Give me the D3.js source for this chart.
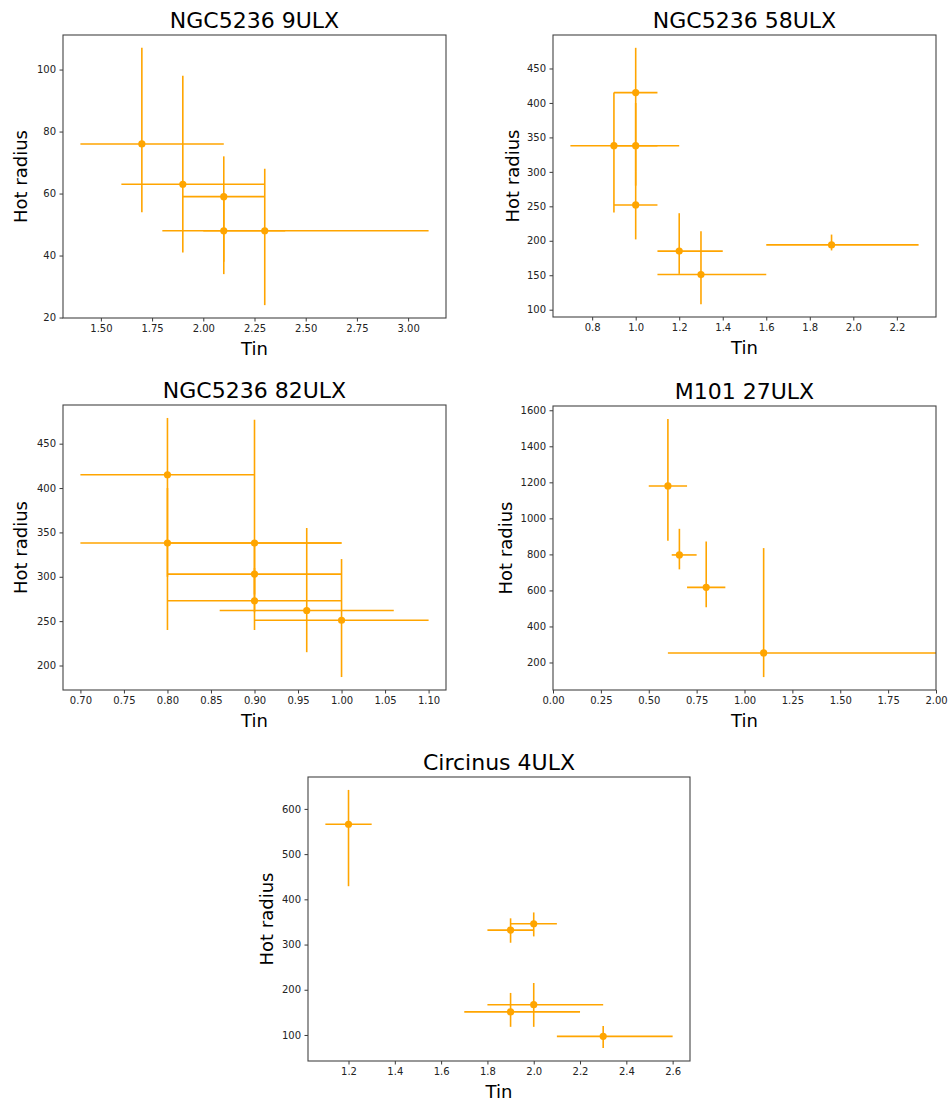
<!DOCTYPE html>
<html>
<head>
<meta charset="utf-8">
<script src="https://cdn.jsdelivr.net/npm/d3@7"></script>
<style>
  html, body { margin: 0; padding: 0; background: #fff; }
  svg { display: block; font-family: "DejaVu Sans", sans-serif; }
</style>
</head>
<body>
<svg id="chart" width="952" height="1104"></svg>
<script>
// ---- NGC5236 9ULX ----
const ngc9Tin      = [1.7, 1.9, 2.1, 2.1, 2.3];
const ngc9TinLo    = [1.4, 1.6, 1.9, 1.8, 2.0];
const ngc9TinHi    = [2.1, 2.3, 2.3, 2.4, 3.1];
const ngc9Rad      = [76, 63, 59, 48, 48];
const ngc9RadLo    = [54, 41, 34, 38, 24];
const ngc9RadHi    = [107, 98, 72, 60, 68];
const ngc9XTicks   = [1.5, 1.75, 2.0, 2.25, 2.5, 2.75, 3.0];
const ngc9YTicks   = [20, 40, 60, 80, 100];

// ---- NGC5236 58ULX ----
const ngc58Tin     = [1.0, 0.9, 1.0, 1.0, 1.2, 1.3, 1.9];
const ngc58TinLo   = [0.9, 0.7, 0.9, 0.9, 1.1, 1.1, 1.6];
const ngc58TinHi   = [1.1, 1.2, 1.1, 1.1, 1.4, 1.6, 2.3];
const ngc58Rad     = [415, 338, 338, 252, 185, 151, 194];
const ngc58RadLo   = [300, 241, 280, 202, 152, 108, 186];
const ngc58RadHi   = [480, 415, 400, 300, 240, 214, 209];
const ngc58XTicks  = [0.8, 1.0, 1.2, 1.4, 1.6, 1.8, 2.0, 2.2];
const ngc58YTicks  = [100, 150, 200, 250, 300, 350, 400, 450];

// ---- NGC5236 82ULX ----
const ngc82Tin     = [0.8, 0.8, 0.9, 0.9, 0.9, 0.96, 1.0];
const ngc82TinLo   = [0.7, 0.7, 0.8, 0.8, 0.8, 0.86, 0.9];
const ngc82TinHi   = [0.9, 1.0, 1.0, 1.0, 1.0, 1.06, 1.1];
const ngc82Rad     = [415, 338, 338, 303, 273, 262, 251];
const ngc82RadLo   = [300, 240, 280, 260, 240, 215, 187];
const ngc82RadHi   = [479, 400, 477, 340, 310, 355, 320];
const ngc82XTicks  = [0.70, 0.75, 0.80, 0.85, 0.90, 0.95, 1.00, 1.05, 1.10];
const ngc82YTicks  = [200, 250, 300, 350, 400, 450];

// ---- M101 27ULX ----
const m101Tin      = [0.6, 0.66, 0.8, 1.1];
const m101TinLo    = [0.5, 0.62, 0.7, 0.6];
const m101TinHi    = [0.7, 0.75, 0.9, 2.3];
const m101Rad      = [1180, 797, 617, 253];
const m101RadLo    = [876, 717, 506, 119];
const m101RadHi    = [1552, 942, 872, 835];
const m101XTicks   = [0, 0.25, 0.5, 0.75, 1.0, 1.25, 1.5, 1.75, 2.0];
const m101YTicks   = [200, 400, 600, 800, 1000, 1200, 1400, 1600];
const m101XRange   = [0, 2];

// ---- Circinus 4ULX ----
const circTin      = [1.2, 1.9, 2.0, 1.9, 2.0, 2.3];
const circTinLo    = [1.1, 1.8, 1.9, 1.7, 1.8, 2.1];
const circTinHi    = [1.3, 2.0, 2.1, 2.2, 2.3, 2.6];
const circRad      = [566, 332, 346, 151, 167, 97];
const circRadLo    = [429, 304, 318, 118, 118, 71];
const circRadHi    = [642, 358, 371, 193, 215, 120];
const circXTicks   = [1.2, 1.4, 1.6, 1.8, 2.0, 2.2, 2.4, 2.6];
const circYTicks   = [100, 200, 300, 400, 500, 600];

const titles = ["NGC5236 9ULX", "NGC5236 58ULX", "NGC5236 82ULX", "M101 27ULX", "Circinus 4ULX"];

const ORANGE = "#ffa500";
const svg = d3.select("#chart");

// pad an extent by 5% on each side, the usual autoscale margin
function padded(lo, hi) {
  const m = (hi - lo) * 0.05;
  return [lo - m, hi + m];
}

function panel(cfg) {
  const { id, box, title, tin, tinLo, tinHi, rad, radLo, radHi,
          xTicks, yTicks, xFmt, yFmt, xRange, ylabOff } = cfg;

  const xDom = xRange || padded(d3.min(tinLo), d3.max(tinHi));
  const yDom = padded(d3.min(radLo), d3.max(radHi));

  const x = d3.scaleLinear().domain(xDom).range([box.left, box.right]);
  const y = d3.scaleLinear().domain(yDom).range([box.bottom, box.top]);

  const g = svg.append("g");

  g.append("clipPath").attr("id", "clip" + id)
    .append("rect")
    .attr("x", box.left).attr("y", box.top)
    .attr("width", box.right - box.left).attr("height", box.bottom - box.top);

  const plot = g.append("g").attr("clip-path", `url(#clip${id})`);
  const idx = d3.range(tin.length);

  // horizontal error bars
  plot.selectAll("line.xe").data(idx).join("line")
    .attr("class", "xe")
    .attr("x1", i => x(tinLo[i])).attr("x2", i => x(tinHi[i]))
    .attr("y1", i => y(rad[i])).attr("y2", i => y(rad[i]))
    .attr("stroke", ORANGE).attr("stroke-width", 1.6);

  // vertical error bars
  plot.selectAll("line.ye").data(idx).join("line")
    .attr("class", "ye")
    .attr("x1", i => x(tin[i])).attr("x2", i => x(tin[i]))
    .attr("y1", i => y(radLo[i])).attr("y2", i => y(radHi[i]))
    .attr("stroke", ORANGE).attr("stroke-width", 1.6);

  // markers
  plot.selectAll("circle").data(idx).join("circle")
    .attr("cx", i => x(tin[i])).attr("cy", i => y(rad[i]))
    .attr("r", 3.6).attr("fill", ORANGE);

  // axes
  const xAxis = d3.axisBottom(x).tickValues(xTicks).tickFormat(d3.format(xFmt))
    .tickSizeOuter(0).tickSizeInner(3.5).tickPadding(3.5);
  const yAxis = d3.axisLeft(y).tickValues(yTicks).tickFormat(d3.format(yFmt))
    .tickSizeOuter(0).tickSizeInner(3.5).tickPadding(3.5);

  const gx = g.append("g").attr("transform", `translate(0,${box.bottom})`).call(xAxis);
  const gy = g.append("g").attr("transform", `translate(${box.left},0)`).call(yAxis);
  [gx, gy].forEach(a => {
    a.select(".domain").remove();
    a.selectAll(".tick line").attr("stroke", "#222").attr("stroke-width", 0.9);
    a.selectAll(".tick text").attr("fill", "#222")
      .style("font-size", "10px").style("font-family", "DejaVu Sans, sans-serif");
  });

  // frame
  g.append("rect")
    .attr("x", box.left).attr("y", box.top)
    .attr("width", box.right - box.left).attr("height", box.bottom - box.top)
    .attr("fill", "none").attr("stroke", "#444").attr("stroke-width", 1.1);

  const cx = (box.left + box.right) / 2;
  g.append("text")
    .attr("x", cx).attr("y", box.top - 7)
    .attr("text-anchor", "middle")
    .style("font-size", "22px").attr("fill", "#000")
    .text(title);

  g.append("text")
    .attr("x", cx).attr("y", box.bottom + 37)
    .attr("text-anchor", "middle")
    .style("font-size", "18px").attr("fill", "#000")
    .text("Tin");

  const cy = (box.top + box.bottom) / 2;
  g.append("text")
    .attr("transform", `translate(${box.left - ylabOff},${cy}) rotate(-90)`)
    .attr("text-anchor", "middle")
    .style("font-size", "18px").attr("fill", "#000")
    .text("Hot radius");
}

panel({ id: 1, title: titles[0], box: { left: 63, right: 446, top: 35, bottom: 318 },
  tin: ngc9Tin, tinLo: ngc9TinLo, tinHi: ngc9TinHi, rad: ngc9Rad, radLo: ngc9RadLo, radHi: ngc9RadHi,
  xTicks: ngc9XTicks, yTicks: ngc9YTicks, xFmt: ".2f", yFmt: "d", ylabOff: 36 });

panel({ id: 2, title: titles[1], box: { left: 553, right: 936, top: 35, bottom: 317 },
  tin: ngc58Tin, tinLo: ngc58TinLo, tinHi: ngc58TinHi, rad: ngc58Rad, radLo: ngc58RadLo, radHi: ngc58RadHi,
  xTicks: ngc58XTicks, yTicks: ngc58YTicks, xFmt: ".1f", yFmt: "d", ylabOff: 34 });

panel({ id: 3, title: titles[2], box: { left: 63, right: 446, top: 405, bottom: 690 },
  tin: ngc82Tin, tinLo: ngc82TinLo, tinHi: ngc82TinHi, rad: ngc82Rad, radLo: ngc82RadLo, radHi: ngc82RadHi,
  xTicks: ngc82XTicks, yTicks: ngc82YTicks, xFmt: ".2f", yFmt: "d", ylabOff: 36 });

panel({ id: 4, title: titles[3], box: { left: 553, right: 936, top: 406, bottom: 690 },
  tin: m101Tin, tinLo: m101TinLo, tinHi: m101TinHi, rad: m101Rad, radLo: m101RadLo, radHi: m101RadHi,
  xTicks: m101XTicks, yTicks: m101YTicks, xFmt: ".2f", yFmt: "d", xRange: m101XRange, ylabOff: 41 });

panel({ id: 5, title: titles[4], box: { left: 308, right: 690, top: 777, bottom: 1061 },
  tin: circTin, tinLo: circTinLo, tinHi: circTinHi, rad: circRad, radLo: circRadLo, radHi: circRadHi,
  xTicks: circXTicks, yTicks: circYTicks, xFmt: ".1f", yFmt: "d", ylabOff: 35 });
</script>
</body>
</html>
